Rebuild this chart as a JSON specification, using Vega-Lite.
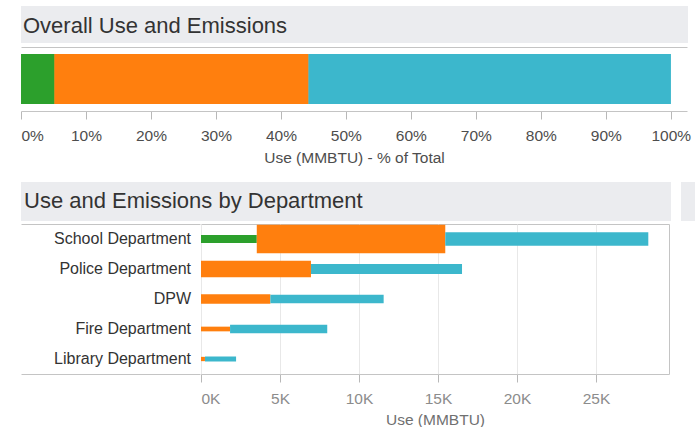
{
  "$schema": "https://vega.github.io/schema/vega-lite/v6.json",
  "padding": {"left": 20, "top": 6, "right": 0, "bottom": 0},
  "background": "#ffffff",
  "datasets": {
    "overall": [
      {"group": "All Departments", "fuel": "Oil", "rank": 1, "pct": 5.15},
      {"group": "All Departments", "fuel": "Natural Gas", "rank": 2, "pct": 39.1},
      {"group": "All Departments", "fuel": "Electricity", "rank": 3, "pct": 55.75}
    ],
    "dept": [
      {"department": "School Department", "fuel": "Oil", "rank": 1, "use": 3530, "emissions": 565},
      {"department": "School Department", "fuel": "Natural Gas", "rank": 2, "use": 11930, "emissions": 2000},
      {"department": "School Department", "fuel": "Electricity", "rank": 3, "use": 12850, "emissions": 954},
      {"department": "Police Department", "fuel": "Natural Gas", "rank": 2, "use": 6960, "emissions": 1152},
      {"department": "Police Department", "fuel": "Electricity", "rank": 3, "use": 9560, "emissions": 707},
      {"department": "DPW", "fuel": "Natural Gas", "rank": 2, "use": 4390, "emissions": 657},
      {"department": "DPW", "fuel": "Electricity", "rank": 3, "use": 7170, "emissions": 615},
      {"department": "Fire Department", "fuel": "Natural Gas", "rank": 2, "use": 1840, "emissions": 332},
      {"department": "Fire Department", "fuel": "Electricity", "rank": 3, "use": 6150, "emissions": 615},
      {"department": "Library Department", "fuel": "Natural Gas", "rank": 2, "use": 250, "emissions": 304},
      {"department": "Library Department", "fuel": "Electricity", "rank": 3, "use": 1970, "emissions": 353}
    ],
    "headers": [
      {"header": "Overall Use and Emissions"},
      {"header": "Use and Emissions by Department"}
    ],
    "one": [{}]
  },
  "columns": 1,
  "spacing": 16,
  "align": "none",
  "bounds": "full",
  "concat": [
    {
      "columns": 1,
      "spacing": 4,
      "align": "none",
      "concat": [
        {
          "width": 667,
          "height": 37,
          "data": {"name": "headers"},
          "transform": [{"filter": "datum.header === 'Overall Use and Emissions'"}],
          "view": {"fill": "#ebecef", "stroke": null},
          "mark": {"type": "text", "align": "left", "baseline": "alphabetic", "dx": 2, "dy": 26.5, "fontSize": 22, "color": "#333333"},
          "encoding": {
            "x": {"datum": 0, "type": "quantitative", "scale": {"domain": [0, 1]}, "axis": null},
            "y": {"datum": 1, "type": "quantitative", "scale": {"domain": [0, 1]}, "axis": null},
            "text": {"field": "header"}
          }
        },
        {
          "width": 666,
          "height": 64,
          "data": {"name": "overall"},
          "layer": [
            {
              "mark": {"type": "bar", "size": 50},
              "encoding": {
                "y": {"field": "group", "type": "nominal", "axis": {"labels": false, "ticks": false, "title": null, "grid": false, "domain": true, "domainColor": "#c4c4c4", "minExtent": 0, "maxExtent": 0}},
                "x": {"field": "pct", "type": "quantitative", "stack": "zero", "scale": {"domain": [0, 102.5], "nice": false, "zero": true},
                  "axis": {"orient": "bottom", "values": [0, 10, 20, 30, 40, 50, 60, 70, 80, 90, 100], "labelExpr": "datum.value + '%'", "labelFlush": true, "grid": false, "domainColor": "#c4c4c4", "tickColor": "#b8b8b8", "tickSize": 8, "labelPadding": 9, "labelFontSize": 15.5, "labelColor": "#4d4d4d", "title": "Use (MMBTU) - % of Total", "titleFontSize": 15.5, "titleFontWeight": "normal", "titleColor": "#4d4d4d", "titlePadding": 6.5}},
                "color": {"field": "fuel", "type": "nominal", "scale": {"domain": ["Oil", "Natural Gas", "Electricity"], "range": ["#2ca02c", "#ff7f0e", "#3cb7cc"]}, "legend": null},
                "order": {"field": "rank", "type": "quantitative"}
              }
            },
            {
              "mark": {"type": "bar", "size": 50},
              "encoding": {
                "y": {"field": "group", "type": "nominal", "axis": null},
                "x": {"field": "pct", "type": "quantitative", "stack": "zero", "scale": {"domain": [0, 102.5], "nice": false, "zero": true},
                  "axis": {"orient": "top", "labels": false, "ticks": false, "title": null, "grid": false, "domainColor": "#c4c4c4", "minExtent": 0, "maxExtent": 0}},
                "color": {"field": "fuel", "type": "nominal", "legend": null},
                "order": {"field": "rank", "type": "quantitative"}
              }
            }
          ],
          "resolve": {"axis": {"x": "independent"}}
        }
      ]
    },
    {
      "columns": 1,
      "spacing": 2,
      "align": "none",
      "concat": [
        {
          "spacing": 10,
          "hconcat": [
            {
              "width": 650,
              "height": 39,
              "data": {"name": "headers"},
              "transform": [{"filter": "datum.header === 'Use and Emissions by Department'"}],
              "view": {"fill": "#ebecef", "stroke": null},
              "mark": {"type": "text", "align": "left", "baseline": "alphabetic", "dx": 3, "dy": 26.3, "fontSize": 22, "color": "#333333"},
              "encoding": {
                "x": {"datum": 0, "type": "quantitative", "scale": {"domain": [0, 1]}, "axis": null},
                "y": {"datum": 1, "type": "quantitative", "scale": {"domain": [0, 1]}, "axis": null},
                "text": {"field": "header"}
              }
            },
            {
              "width": 15,
              "height": 39,
              "data": {"name": "one"},
              "view": {"fill": "#ebecef", "stroke": null},
              "mark": {"type": "text", "text": ""},
              "encoding": {}
            }
          ]
        },
        {
          "spacing": 0,
          "hconcat": [
            {
              "width": 179,
              "height": 150,
              "data": {"name": "dept"},
              "transform": [{"aggregate": [{"op": "sum", "field": "use", "as": "total"}], "groupby": ["department"]}],
              "layer": [
                {
                  "mark": {"type": "text", "align": "right", "baseline": "middle", "dx": -9, "fontSize": 16, "color": "#333333"},
                  "encoding": {
                    "y": {"field": "department", "type": "nominal", "sort": ["School Department", "Police Department", "DPW", "Fire Department", "Library Department"], "axis": null},
                    "x": {"datum": 1, "type": "quantitative", "scale": {"domain": [0, 1]}, "axis": {"orient": "bottom", "labels": false, "ticks": false, "title": null, "grid": false, "domainColor": "#c4c4c4", "minExtent": 0, "maxExtent": 0}},
                    "text": {"field": "department"}
                  }
                },
                {
                  "mark": {"type": "text", "text": ""},
                  "encoding": {
                    "y": {"field": "department", "type": "nominal", "sort": ["School Department", "Police Department", "DPW", "Fire Department", "Library Department"], "axis": null},
                    "x": {"datum": 1, "type": "quantitative", "scale": {"domain": [0, 1]}, "axis": {"orient": "top", "labels": false, "ticks": false, "title": null, "grid": false, "domainColor": "#c4c4c4", "minExtent": 0, "maxExtent": 0}}
                  }
                }
              ],
              "resolve": {"axis": {"x": "independent"}}
            },
            {
              "width": 468,
              "height": 150,
              "data": {"name": "dept"},
              "view": {"stroke": "#c4c4c4", "strokeWidth": 1},
              "mark": {"type": "bar"},
              "encoding": {
                "y": {"field": "department", "type": "nominal", "sort": ["School Department", "Police Department", "DPW", "Fire Department", "Library Department"], "axis": null},
                "x": {"field": "use", "type": "quantitative", "stack": "zero", "scale": {"domain": [0, 29620], "nice": false, "zero": true},
                  "axis": {"values": [0, 5000, 10000, 15000, 20000, 25000], "labelExpr": "datum.value / 1000 + 'K'", "labelFlush": true, "grid": true, "gridColor": "#e8e8e8", "domain": false, "tickColor": "#b8b8b8", "tickSize": 8, "labelPadding": 9, "labelFontSize": 15.5, "labelColor": "#8c8c8c", "title": "Use (MMBTU)", "titleFontSize": 15.5, "titleFontWeight": "normal", "titleColor": "#707070", "titlePadding": 5.5}},
                "size": {"field": "emissions", "type": "quantitative", "scale": {"domain": [0, 2000], "range": [0, 28.3], "zero": true}, "legend": null},
                "color": {"field": "fuel", "type": "nominal", "scale": {"domain": ["Oil", "Natural Gas", "Electricity"], "range": ["#2ca02c", "#ff7f0e", "#3cb7cc"]}, "legend": null},
                "order": {"field": "rank", "type": "quantitative"}
              }
            }
          ]
        }
      ]
    }
  ],
  "config": {
    "font": "Liberation Sans",
    "view": {"stroke": null},
    "axis": {"labelFont": "Liberation Sans", "titleFont": "Liberation Sans"}
  }
}
